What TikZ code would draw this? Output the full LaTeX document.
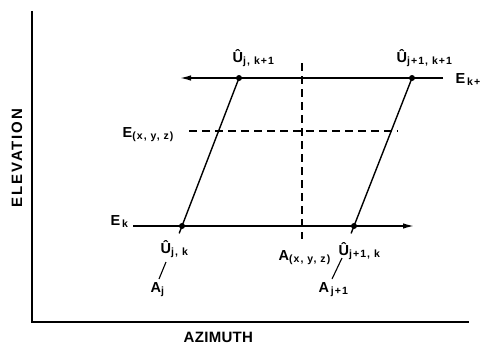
\documentclass[tikz,border=0pt]{standalone}
\usepackage{fontspec}
\setmainfont{Liberation Sans}[BoldFont=Liberation Sans Bold]
\newfontfamily\labf{Liberation Sans Bold}
\newfontfamily\subsf{Liberation Sans Bold}[LetterSpace=10]
\newfontfamily\axisf{Liberation Sans Bold}[LetterSpace=12]
\newfontfamily\axisg{Liberation Sans Bold}[LetterSpace=2]
\usetikzlibrary{arrows.meta,calc}
\newcommand\lbl[2]{{\fontsize{14.5}{16}\labf #1}\raisebox{-2pt}{\fontsize{10.5}{12}\subsf #2}}
\begin{document}
\begin{tikzpicture}[x=1pt,y=-1pt,line width=1.4pt,
  dot/.style={circle,fill=black,inner sep=0pt,minimum size=6pt},
  lab/.style={anchor=base west,inner sep=0pt},
  arr/.style={-{Latex[length=11pt,width=5.5pt]}},
  dashline/.style={dash pattern=on 8pt off 5pt,line width=1.3pt},
  axislab/.style={inner sep=0pt}]
\useasboundingbox (0,0) rectangle (486,345);
% axes
\coordinate (ytop) at (32,11);
\coordinate (origin) at (32,322);
\coordinate (xend) at (469,322);
\draw (ytop) -- (origin) -- (xend);
\node[axislab,rotate=90,font=\fontsize{15}{17}\axisf] (elev) at (17,158) {ELEVATION};
\node[axislab,anchor=base west,font=\fontsize{15}{17}\axisg] (azim) at (183,342) {AZIMUTH};
% grid points
\node[dot] (u1) at (239,78) {};
\node[dot] (u2) at (412,78) {};
\node[dot] (u3) at (182,226) {};
\node[dot] (u4) at (354,226) {};
% horizontal lines
\coordinate (tR) at (443,78);
\coordinate (tL) at (180,78);
\coordinate (bL) at (133,226);
\coordinate (bR) at (414,226);
\draw[arr] (tR) -- (tL);
\draw[arr] (bL) -- (bR);
% dashed lines
\coordinate (vT) at (302,63);
\coordinate (vB) at (302,239);
\coordinate (hL) at (189,131);
\coordinate (hR) at (398,131);
\draw[dashline] (vT) -- (vB);
\draw[dashline] (hL) -- (hR);
% slanted lines
\draw (u1.center) -- ($(u1.center)!1.05!(u3.center)$);
\draw (u2.center) -- ($(u2.center)!1.05!(u4.center)$);
% labels
\node[lab] (L1) at (232,62) {\lbl{Û}{j, k+1}};
\node[lab] (L2) at (396,62) {\lbl{Û}{j+1, k+1}};
\node[lab] (Ekp) at (455,83) {\lbl{E}{\,k+}};
\node[lab] (Exyz) at (122,137) {\lbl{E}{(x, y, z)}};
\node[lab] (Ek) at (110,225) {\lbl{E}{\,k}};
\node[lab] (Ujk) at (160,253) {\lbl{Û}{j, k}};
\node[lab] (Axyz) at (278,260) {\lbl{A}{(x, y, z)}};
\node[lab] (Uj1k) at (338,255) {\lbl{Û}{j+1, k}};
\node[lab] (Aj) at (150,292) {\lbl{A}{j}};
\node[lab] (Aj1) at (318,292) {\lbl{A}{\,j+1}};
% leaders
\draw[line width=1.1pt] ($(Aj.base west)+(9,-13)$) -- ($(Ujk.base west)+(6,9)$);
\draw[line width=1.1pt] ($(Aj1.base west)+(14,-13)$) -- ($(Uj1k.base west)+(4,3)$);
\end{tikzpicture}
\end{document}
